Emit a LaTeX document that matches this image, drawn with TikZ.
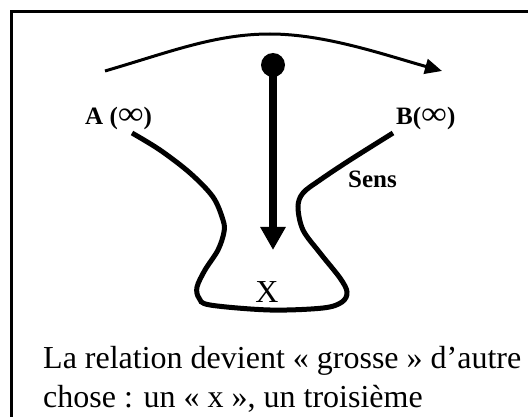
\documentclass[tikz,border=0pt]{standalone}
\usepackage{fontspec}
\setmainfont{Liberation Serif}
\usetikzlibrary{arrows.meta}
\newcommand{\infsym}{\raisebox{0.5pt}{\scalebox{1.45}[1.3]{\mdseries ∞}}}
\begin{document}
\begin{tikzpicture}[
    x=1pt,
    y=-1pt,
    lbl/.style={anchor=base west, inner sep=0pt, font=\fontsize{25}{30}\selectfont\bfseries},
    txt/.style={anchor=base west, inner sep=0pt, font=\fontsize{32}{38}\selectfont}
]
\clip (0,0) rectangle (528,417);
\draw[line width=2.5pt] (11.5,11.5) rectangle (600,500);

\coordinate (arcA) at (105,71);
\coordinate (arcB) at (442,71);
\draw[line width=3pt, -{Triangle[length=17pt,width=15pt]}]
    (arcA) .. controls (170,52) and (215,34) .. (270,34)
    .. controls (325,34) and (385,55) .. (arcB);

\node[lbl] (A) at (85,125) {A (\infsym)};
\node[lbl] (B) at (396,125) {B(\infsym)};
\node[lbl] (sens) at (348,188) {Sens};

\draw[line width=5pt] plot[smooth, tension=0.55] coordinates {
    (132,133) (160,150) (190,173) (213,197) (223,220) (224,232)
    (218,250) (205,270) (197,287) (199,298) (210,305) (270,310)
    (323,308) (342,302) (347,292) (340,278) (320,253) (303,230)
    (298,207) (303,193) (320,180) (350,160) (393,133)};

\node[circle, fill, inner sep=0pt, minimum size=24pt] (pin) at (273,65) {};
\coordinate (xtip) at (273,250);
\draw[line width=8pt, -{Triangle[length=23pt,width=24pt]}] (pin.center) -- (xtip);

\node[anchor=base, inner sep=0pt, font=\fontsize{32}{38}\selectfont] (X) at (267,302) {X};

\node[txt] (line1) at (43,368) {La relation devient « grosse » d’autre};
\node[txt] (line2) at (43,407) {chose : un « x », un troisième};
\end{tikzpicture}
\end{document}
